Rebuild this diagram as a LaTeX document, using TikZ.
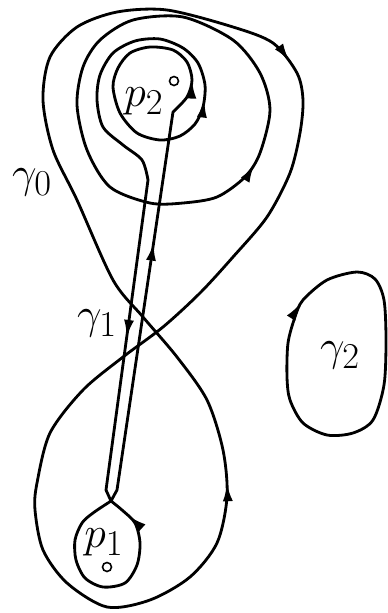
\documentclass[tikz,border=0pt]{standalone}
\usepackage{tikz}
\usetikzlibrary{arrows.meta, decorations.markings}
\tikzset{
  curve/.style={line width=1.6pt, line join=round, line cap=round},
  arrowat/.style={postaction={decorate, decoration={markings,
      mark=at position #1 with {\arrow{Latex[length=3.6mm, width=2mm]}}}}},
  ptmark/.style={circle, draw, line width=0.9pt, inner sep=0pt, minimum size=1.8mm},
  lbl/.style={inner sep=0pt, font=\fontsize{24.88}{30}\selectfont},
}

\begin{document}
\begin{tikzpicture}[x=0.02cm, y=-0.02cm]
  \useasboundingbox (0,0) rectangle (388,613);

  % Points and labels
  \node [ptmark] (p2pt) at (174,81) {};
  \node [ptmark] (p1pt) at (107,567) {};
  \node [lbl] (p2lbl) at (144,101) {$p_2$};
  \node [lbl] (p1lbl) at (104,542) {$p_1$};
  \node [lbl] (g0lbl) at (32,182) {$\gamma_0$};
  \node [lbl] (g1lbl) at (97,323) {$\gamma_1$};
  \node [lbl] (g2lbl) at (340,355) {$\gamma_2$};

  % gamma_0, figure eight
  \draw [curve, arrowat=0.093, arrowat=0.553] plot[smooth cycle] coordinates
    {(107,607) (150,600) (190,577) (217,543) (227,497) (223,450) (207,400)
     (177,357) (143,317) (113,280) (77,200) (53,150) (43,100) (50,57) (77,27)
     (117,12) (167,10) (233,27) (273,43) (297,73) (303,100) (300,133)
     (290,173) (267,217) (233,257) (200,293) (163,327) (123,357) (83,390)
     (50,433) (37,483) (35,510) (43,550) (67,583)};

  % loop round p2
  \draw [curve, arrowat=0.14] plot[smooth cycle] coordinates
    {(150,203) (183,203) (217,197) (245,177) (260,153) (270,110) (260,73)
     (233,40) (183,17) (133,20) (100,40) (83,67) (77,105) (87,150) (110,187)};

  % gamma_1, stem with both ends
  \draw [curve, arrowat=0.17, arrowat=0.28, arrowat=0.452, arrowat=0.74,
         arrowat=0.985] (111,501) -- (117,490) -- plot[smooth] coordinates
    {(173,112) (187,97) (192,80) (187,62) (173,50) (150,47) (130,53) (118,68)
     (113,87) (120,113) (137,133) (160,140) (180,136) (195,124) (203,107)
     (205,85) (198,63) (183,48) (160,39) (135,41) (113,53) (100,75) (97,100)
     (103,127) (123,145) (142,160) (148,180)}
    -- (106,490) -- plot[smooth] coordinates
    {(111,501) (93,513) (82,523) (75,540) (76,560) (85,578) (103,587)
     (125,583) (137,565) (140,543) (135,523) (122,510) (111,501)};

  % gamma_2
  \draw [curve, arrowat=0.29] plot[smooth cycle] coordinates
    {(327,435) (303,423) (290,400) (287,377) (288,343) (295,317) (303,300)
     (327,280) (357,272) (375,279) (384,300) (386,340) (384,385) (373,420)
     (353,433)};
\end{tikzpicture}
\end{document}
